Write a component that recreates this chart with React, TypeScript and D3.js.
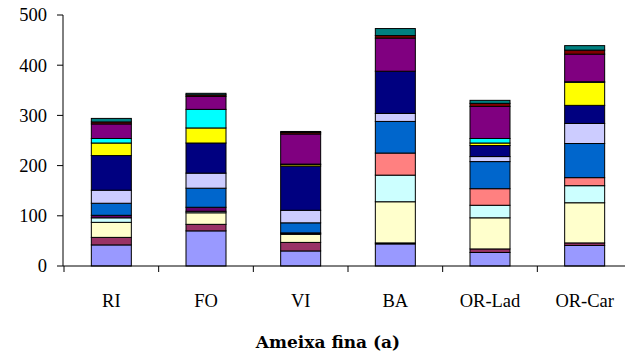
import React from "react";
import * as d3 from "d3";

const categories = ["RI", "FO", "VI", "BA", "OR-Lad", "OR-Car"];
const seriesColors = [
  "#9999FF", "#993366", "#FFFFCC", "#CCFFFF", "#660066", "#FF8080", "#0066CC", "#CCCCFF",
  "#000080", "#FF00FF", "#FFFF00", "#00FFFF", "#800080", "#800000", "#008080",
];
const valuesRI = [42, 15, 30, 9, 5, 0, 24, 26, 69, 0, 25, 9, 29, 4, 7];
const valuesFO = [70, 13, 23, 3, 8, 0, 38, 30, 60, 0, 30, 37, 26, 3, 3];
const valuesVI = [30, 17, 16, 2, 1, 0, 20, 25, 88, 0, 3, 1, 60, 3, 2];
const valuesBA = [44, 2, 82, 53, 0, 44, 63, 16, 84, 0, 0, 0, 66, 5, 14];
const valuesORLad = [27, 7, 62, 25, 0, 33, 54, 10, 22, 0, 5, 9, 64, 6, 6];
const valuesORCar = [41, 5, 80, 34, 0, 16, 68, 40, 36, 0, 46, 1, 55, 8, 9];
const yTicks = [0, 100, 200, 300, 400, 500];
const xTitle = "Ameixa fina (a)";

const allValues = [valuesRI, valuesFO, valuesVI, valuesBA, valuesORLad, valuesORCar];
const keys = seriesColors.map((_, i) => "s" + i);
const table = categories.map((c, ci) => {
  const row: any = { cat: c };
  keys.forEach((k, i) => (row[k] = allValues[ci][i]));
  return row;
});

export default function App() {
  const W = 625, H = 358;
  const axisX = 63;
  const x = d3.scaleBand<string>().domain(categories).range([64, 632]).padding(0);
  const barW = 40;
  const y = d3.scaleLinear().domain([0, 500]).range([266, 15]);
  const stacked = d3.stack<any>().keys(keys)(table);
  const font = "'Liberation Serif', 'Times New Roman', serif";
  const titleFont = "'DejaVu Serif', serif";
  const step = x.step();
  return (
    <svg width={W} height={H} style={{ position: "absolute", left: 0, top: 0, background: "#fff" }}>
      {stacked.map((layer, li) =>
        layer.map((d, ci) => {
          const v = d[1] - d[0];
          if (v <= 0) return null;
          const bx = (x(categories[ci]) as number) + (step - barW) / 2;
          return (
            <rect
              key={li + "-" + ci}
              x={bx}
              y={y(d[1])}
              width={barW}
              height={y(d[0]) - y(d[1])}
              fill={seriesColors[li]}
              stroke="#000"
              strokeWidth={1}
            />
          );
        })
      )}
      {/* y axis */}
      <line x1={axisX} x2={axisX} y1={y(500)} y2={y(0)} stroke="#000" strokeWidth={1} />
      {yTicks.map((t) => (
        <g key={t}>
          <line x1={axisX - 6} x2={axisX} y1={y(t)} y2={y(t)} stroke="#000" strokeWidth={1} />
          <text x={47} y={y(t)} dy="0.35em" textAnchor="end" fontFamily={font} fontSize={18.5} fill="#000">
            {t}
          </text>
        </g>
      ))}
      {/* x axis */}
      <line x1={axisX} x2={W} y1={y(0)} y2={y(0)} stroke="#000" strokeWidth={1} />
      {categories.map((c) => (
        <line key={"t" + c} x1={x(c) as number} x2={x(c) as number} y1={y(0)} y2={y(0) + 6} stroke="#000" strokeWidth={1} />
      ))}
      {categories.map((c) => (
        <text key={"l" + c} x={(x(c) as number) + step / 2} y={307} textAnchor="middle" fontFamily={font} fontSize={18.5} fill="#000">
          {c}
        </text>
      ))}
      <text x={328} y={348} textAnchor="middle" fontFamily={titleFont} fontSize={17} fontWeight="bold" fill="#000">
        {xTitle}
      </text>
    </svg>
  );
}
